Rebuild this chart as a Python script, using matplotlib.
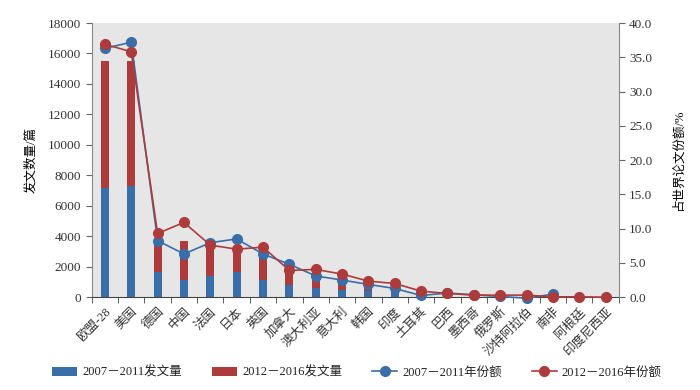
import numpy as np
import matplotlib
matplotlib.use("Agg")
import matplotlib.pyplot as plt

plt.rcParams["font.family"] = ["Liberation Serif", "Noto Sans CJK SC"]
plt.rcParams["font.weight"] = "light"
plt.rcParams["text.color"] = "#222222"

countries = ["欧盟-28", "美国", "德国", "中国", "法国", "日本", "英国", "加拿大",
             "澳大利亚", "意大利", "韩国", "印度", "土耳其", "巴西", "墨西哥",
             "俄罗斯", "沙特阿拉伯", "南非", "阿根廷", "印度尼西亚"]
# paper counts (stacked bars)
papers_0711 = [7200, 7300, 1650, 1150, 1420, 1650, 1150, 780, 600, 500,
               390, 650, 150, 120, 80, 60, 30, 60, 20, 10]
papers_1216 = [8300, 8200, 2150, 2550, 2130, 1550, 1900, 1120, 1020, 850,
               610, 450, 150, 120, 80, 60, 40, 30, 20, 10]
# share of world papers, %
share_0711 = [36.3, 37.2, 8.25, 6.3, 7.95, 8.5, 6.3, 4.8, 3.1, 2.5,
              1.86, 1.27, 0.25, 0.6, 0.35, 0.1, -0.15, 0.45, np.nan, np.nan]
share_1216 = [36.9, 35.8, 9.3, 10.9, 7.6, 7.0, 7.3, 3.9, 4.05, 3.37,
              2.34, 2.0, 0.88, 0.54, 0.3, 0.3, 0.3, 0.05, 0.05, 0.0]

BLUE = "#3a6ea8"
RED = "#ad3b3c"
x = np.arange(len(countries))

fig = plt.figure(figsize=(7, 3.9), dpi=100)
ax = fig.add_axes([0.131, 0.238, 0.753, 0.703])
ax.set_facecolor("#e6e6e6")
b1 = ax.bar(x, papers_0711, width=0.3, color=BLUE, label="2007－2011发文量", zorder=2)
b2 = ax.bar(x, papers_1216, width=0.3, bottom=papers_0711, color=RED,
            label="2012－2016发文量", zorder=2)
ax.set_xlim(-0.5, len(countries) - 0.5)
ax.set_ylim(0, 18000)
ax.set_yticks(range(0, 18001, 2000))
ax.set_xticks(x)
ax.set_xticklabels(countries, rotation=45, ha="right", rotation_mode="anchor")
ax.set_xticks(np.arange(-0.5, len(countries), 1), minor=True)
ax.tick_params(axis="x", which="major", length=0, pad=6, labelsize=9, labelcolor="#333333")
ax.tick_params(axis="x", which="minor", length=4, direction="out", color="#444444")
ax.tick_params(axis="y", length=4, direction="out", labelsize=9.5, color="#666666",
               labelcolor="#333333")
ax.set_ylabel("发文数量/篇", fontsize=9, labelpad=8)
for s in ("top", "right"):
    ax.spines[s].set_visible(False)
ax.spines["left"].set_color("#888888")
ax.spines["bottom"].set_color("#444444")

ax2 = ax.twinx()
l1, = ax2.plot(x, share_0711, color=BLUE, lw=1.2, marker="o", ms=7,
               label="2007－2011年份额", zorder=3, clip_on=False)
l2, = ax2.plot(x, share_1216, color=RED, lw=1.2, marker="o", ms=7,
               label="2012－2016年份额", zorder=4, clip_on=False)
ax2.set_ylim(0, 40)
ax2.set_yticks(np.arange(0, 40.1, 5))
ax2.set_yticklabels([f"{v:.1f}" for v in np.arange(0, 40.1, 5)])
ax2.tick_params(axis="y", length=4, direction="out", labelsize=9.5, color="#666666",
                labelcolor="#333333")
ax2.set_ylabel("占世界论文份额/%", fontsize=9, labelpad=14)
ax2.yaxis.set_label_position("right")
for s in ("top", "left", "bottom"):
    ax2.spines[s].set_visible(False)
ax2.spines["right"].set_color("#888888")

fig.legend(handles=[b1, b2, l1, l2], loc="lower center", bbox_to_anchor=(0.51, 0.0),
           ncol=4, frameon=False, fontsize=9, handlelength=2.0, columnspacing=2.4,
           handletextpad=0.4)

fig.savefig("out.png", dpi=100)
